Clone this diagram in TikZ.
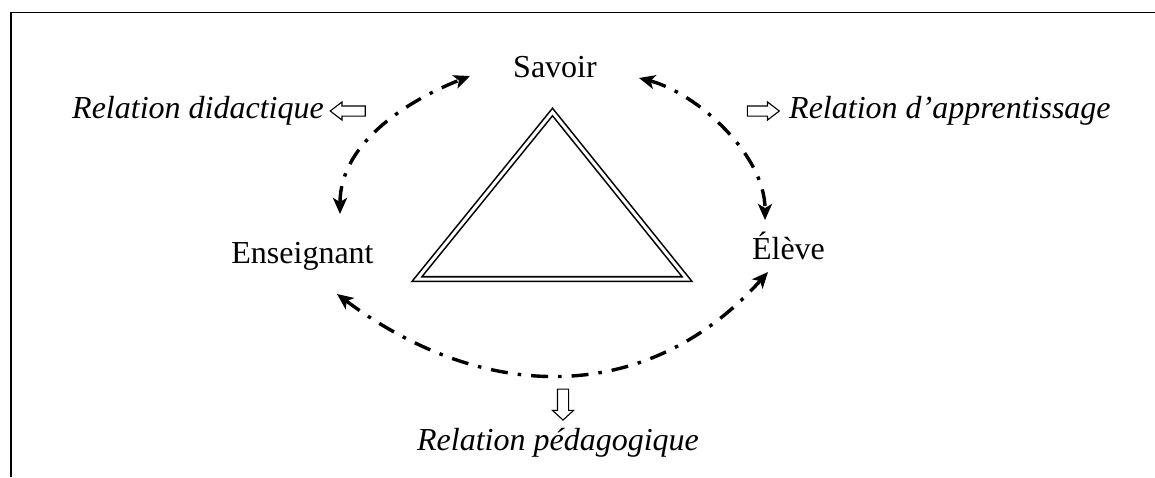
\documentclass[tikz,border=0pt]{standalone}
\usepackage{fontspec}
\setmainfont{Liberation Serif}
\usetikzlibrary{arrows.meta,calc,shapes.arrows}
\begin{document}
\begin{tikzpicture}[x=1pt,y=-1pt,
  lbl/.style={inner sep=0pt,font=\fontsize{32}{38}\selectfont},
  ilbl/.style={inner sep=0pt,font=\fontsize{32}{38}\selectfont\itshape},
  rel/.style={line width=3.4pt,dash pattern=on 17pt off 10pt on 3.5pt off 10pt,
    >={Stealth[length=16pt,width=14pt,inset=4pt]},<->},
  hollow/.style={single arrow,draw,line width=1.1pt,inner sep=4.5pt,
    single arrow head extend=4pt,single arrow tip angle=75,minimum height=#1},
  frame/.style={line width=1.5pt},
  tri/.style={line width=1.6pt,double=white,double distance=3pt,line join=miter}]
\useasboundingbox (0,0) rectangle (1155,477);
\draw[frame] (1155,12.5) -- (11,12.5) -- (11,477);
% labels
\node[lbl,anchor=base] (sav) at (555,77) {Savoir};
\node[lbl,anchor=base] (ens) at (302.5,263) {Enseignant};
\node[lbl,anchor=base] (elv) at (788.5,259) {Élève};
\node[ilbl,anchor=base west] (rd) at (72,118) {Relation didactique};
\node[ilbl,anchor=base west] (ra) at (789,118) {Relation d’apprentissage};
\node[ilbl,anchor=base] (rp) at (558,450) {Relation pédagogique};
% hollow arrows
\node[hollow=35pt,shape border rotate=180] (hl) at (351,111) {};
\node[hollow=32pt] (hr) at (760,111) {};
\node[hollow=31pt,shape border rotate=270,inner sep=5pt,single arrow head extend=5pt,single arrow tip angle=95] (hd) at (563,402) {};
% triangle
\draw[tri] (552.5,112) -- (687,279) -- (417,279) -- cycle;
% relations
\draw[rel] ($(ens.base)+(37.5,-49)$) .. controls +(0,-74) and +(-56,22) .. ($(sav.base)+(-85,-1)$);
\draw[rel] ($(sav.base)+(84,1)$) .. controls +(58,15) and +(0,-65) .. ($(elv.base)+(-23.5,-39)$);
\draw[rel] ($(ens.base)+(34.5,31)$) .. controls +(150,112) and +(-118,132) .. ($(elv.base)+(-20.5,13)$);
\end{tikzpicture}
\end{document}
